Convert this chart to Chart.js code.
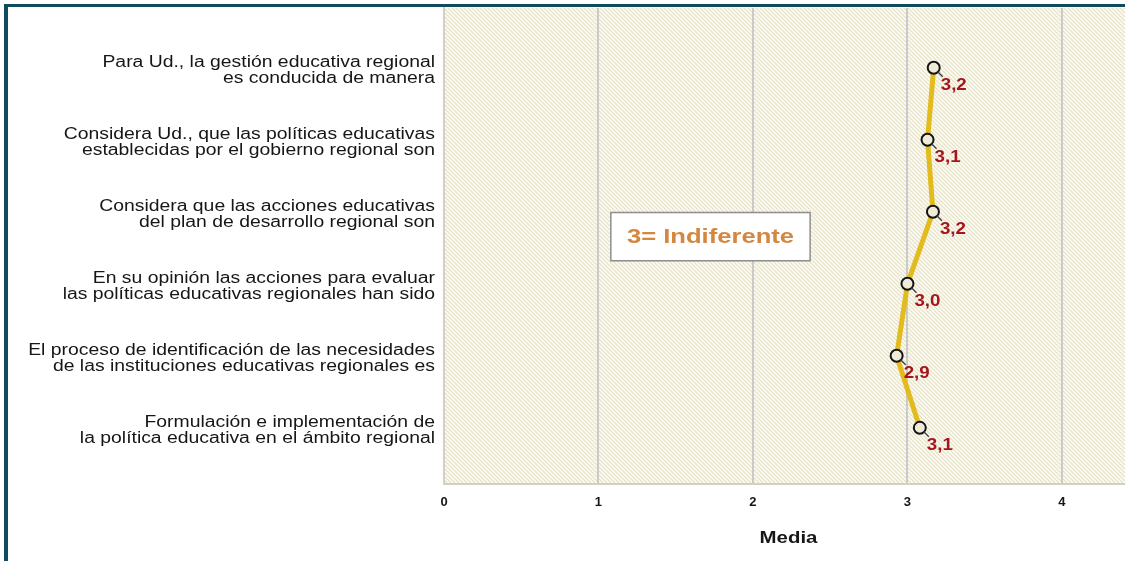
<!DOCTYPE html>
<html>
<head>
<meta charset="utf-8">
<script src="https://cdn.jsdelivr.net/npm/chart.js@4"></script>
<style>
  html, body { margin: 0; padding: 0; background: #fff; overflow: hidden; width: 1125px; height: 561px; }
  #chart { position: absolute; left: 0; top: 0; }
  #frame { position: absolute; left: 4px; top: 4px; width: 1200px; height: 600px;
           border-top: 3px solid #0f4b5d; border-left: 4px solid #0f4b5d; pointer-events: none; }
</style>
</head>
<body>
<canvas id="chart" width="1141" height="561"></canvas>
<div id="frame"></div>
<script>
// data
const categories = [
  ["Para Ud., la gestión educativa regional", "es conducida de manera"],
  ["Considera Ud., que las políticas educativas", "establecidas por el gobierno regional son"],
  ["Considera que las acciones educativas", "del plan de desarrollo regional son"],
  ["En su opinión las acciones para evaluar", "las políticas educativas regionales han sido"],
  ["El proceso de identificación de las necesidades", "de las instituciones educativas regionales es"],
  ["Formulación e implementación de", "la política educativa en el ámbito regional"]
];
const means = [3.17, 3.13, 3.165, 3.0, 2.93, 3.08];
const xTicks = [0, 1, 2, 3, 4];
const axisTitle = "Media";
const noteText = "3= Indiferente";

// note box, in axis units (x = Media, y = category index)
const noteBox = { xMin: 1.08, xMax: 2.37, yMin: 2.01, yMax: 2.68 };

function fmt(v){
  return v.toFixed(1).replace(".", ",");
}

function stretchText(ctx, text, x, y, sx, align){
  ctx.save();
  ctx.translate(x, y);
  ctx.scale(sx, 1);
  ctx.textAlign = align;
  ctx.fillText(text, 0, 0);
  ctx.restore();
}

function hatch(){
  const c = document.createElement("canvas");
  c.width = 4; c.height = 4;
  const g = c.getContext("2d");
  g.fillStyle = "#fcfbf4";
  g.fillRect(0, 0, 4, 4);
  g.strokeStyle = "#e5e0c8";
  g.lineWidth = 1.2;
  g.beginPath();
  g.moveTo(-1, -1); g.lineTo(5, 5);
  g.moveTo(-1, 3); g.lineTo(1, 5);
  g.moveTo(3, -1); g.lineTo(5, 1);
  g.stroke();
  return g.createPattern(c, "repeat");
}

const plotBack = {
  id: "plotBack",
  beforeDraw(chart){
    const {ctx, chartArea: a} = chart;
    ctx.save();
    ctx.fillStyle = hatch();
    ctx.fillRect(a.left, a.top, a.right - a.left, a.bottom - a.top);
    ctx.restore();
  }
};

const texts = {
  id: "texts",
  afterDatasetsDraw(chart){
    const ctx = chart.ctx;
    const xs = chart.scales.x, ys = chart.scales.y;
    const a = chart.chartArea;
    ctx.save();

    // category labels
    ctx.fillStyle = "#161616";
    ctx.font = "16px 'Liberation Sans', Arial, sans-serif";
    ctx.textBaseline = "alphabetic";
    categories.forEach((lines, i) => {
      const ty = ys.getPixelForValue(i);
      lines.forEach((t, j) => stretchText(ctx, t, a.left - 9, ty - 1 + j * 16, 1.21, "right"));
    });

    // value labels with leader lines
    means.forEach((v, i) => {
      const px = xs.getPixelForValue(v), py = ys.getPixelForValue(i);
      ctx.strokeStyle = "#3a3a3a";
      ctx.lineWidth = 1.3;
      ctx.beginPath();
      ctx.moveTo(px + 4, py + 4);
      ctx.lineTo(px + 9, py + 9);
      ctx.stroke();
      ctx.fillStyle = "#a3161b";
      ctx.font = "bold 16px 'Liberation Sans', Arial, sans-serif";
      stretchText(ctx, fmt(v), px + 7, py + 22, 1.17, "left");
    });

    // note box
    const bx1 = xs.getPixelForValue(noteBox.xMin), bx2 = xs.getPixelForValue(noteBox.xMax);
    const by1 = ys.getPixelForValue(noteBox.yMin), by2 = ys.getPixelForValue(noteBox.yMax);
    ctx.fillStyle = "#ffffff";
    ctx.fillRect(bx1, by1, bx2 - bx1, by2 - by1);
    ctx.strokeStyle = "#8e8e8e";
    ctx.lineWidth = 1.5;
    ctx.strokeRect(bx1, by1, bx2 - bx1, by2 - by1);
    ctx.fillStyle = "#d3873f";
    ctx.font = "bold 20px 'Liberation Sans', Arial, sans-serif";
    ctx.textBaseline = "middle";
    stretchText(ctx, noteText, (bx1 + bx2) / 2, (by1 + by2) / 2 + 1, 1.28, "center");

    // axis title
    ctx.fillStyle = "#161616";
    ctx.font = "bold 17px 'Liberation Sans', Arial, sans-serif";
    ctx.textBaseline = "alphabetic";
    stretchText(ctx, axisTitle, (a.left + a.right) / 2, 543, 1.2, "center");

    ctx.restore();
  }
};

new Chart(document.getElementById("chart"), {
  type: "line",
  data: {
    datasets: [{
      data: means.map((v, i) => ({x: v, y: i})),
      borderColor: "#e3bb1d",
      borderWidth: 5,
      pointRadius: 6,
      pointBorderWidth: 2,
      pointBorderColor: "#141414",
      pointBackgroundColor: "#efebd6",
      pointHoverRadius: 6,
      tension: 0,
    }]
  },
  options: {
    responsive: false,
    devicePixelRatio: 1,
    animation: false,
    events: [],
    layout: { padding: { top: 8, left: 0, right: 0, bottom: 0 } },
    plugins: { legend: { display: false }, tooltip: { enabled: false } },
    scales: {
      x: {
        type: "linear",
        min: 0,
        max: 4.46,
        afterBuildTicks: s => { s.ticks = xTicks.map(v => ({value: v})); },
        afterFit: s => { s.height = 77; },
        ticks: {
          padding: 11,
          color: "#161616",
          font: { family: "'Liberation Sans', Arial, sans-serif", size: 13, weight: "bold" },
          callback: v => String(v),
        },
        grid: { color: "#cacaca", lineWidth: 2, drawTicks: false },
        border: { display: true, color: "#d3d0c4", width: 2 },
      },
      y: {
        type: "linear",
        reverse: true,
        min: -0.83,
        max: 5.78,
        afterFit: s => { s.width = 444; },
        ticks: { display: false },
        grid: { display: false, drawTicks: false },
        border: { display: true, color: "#d3d0c4", width: 2 },
      }
    }
  },
  plugins: [plotBack, texts],
});
</script>
</body>
</html>
